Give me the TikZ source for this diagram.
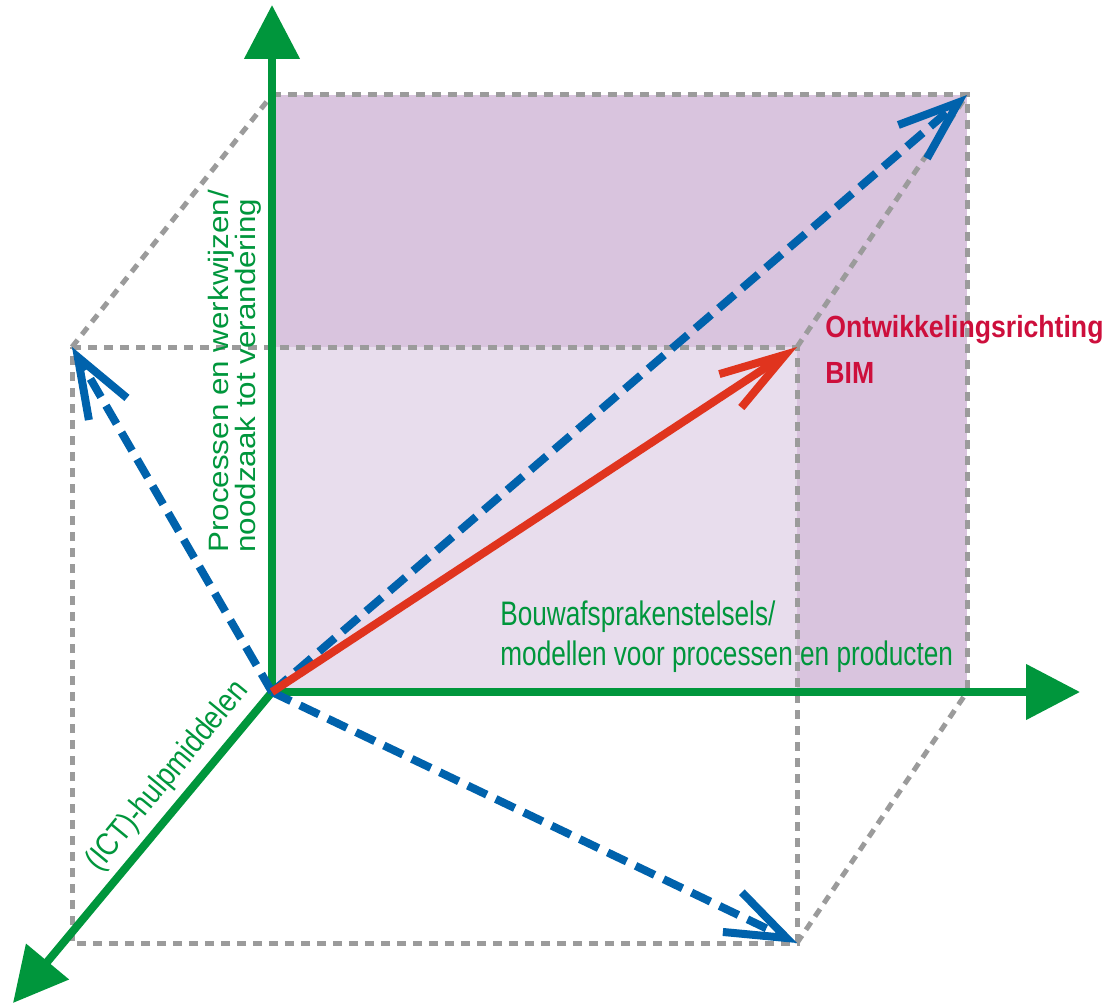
\documentclass[tikz,border=0pt]{standalone}
\usepackage{fontspec}
\setmainfont{Liberation Sans}
\newfontfamily\wideaxis{Liberation Sans}[FakeStretch=1.12]
\newfontfamily\condaxis{Liberation Sans}[FakeStretch=0.77]
\newfontfamily\ictaxis{Liberation Sans}[FakeStretch=0.86]
\newfontfamily\bimfont{Liberation Sans}[FakeStretch=0.87]
\usetikzlibrary{arrows.meta}
\definecolor{axgreen}{RGB}{0,150,60}
\definecolor{vecblue}{RGB}{0,98,172}
\definecolor{vecred}{RGB}{224,52,30}
\definecolor{bimred}{RGB}{205,15,60}
\definecolor{boxgray}{RGB}{155,155,155}
\definecolor{lilac}{RGB}{217,196,222}
\definecolor{palelilac}{RGB}{232,221,237}
\begin{document}
\begin{tikzpicture}[x=0.5pt,y=-0.5pt,
	axis/.style={axgreen,line width=4pt,-{Triangle[length=27pt,width=27pt]}},
	guide/.style={boxgray,line width=2.5pt,dash pattern=on 4.5pt off 3.5pt},
	vec/.style={vecblue,line width=4pt,dash pattern=on 10.5pt off 5pt,-{Straight Barb[length=30pt,width=22pt]}},
	bim/.style={vecred,line width=4pt,-{Straight Barb[length=33pt,width=20pt]}}]
	\useasboundingbox (0,0) rectangle (1109,1006);
	\coordinate (O) at (272,692);
	\coordinate (Ytip) at (272,5);
	\coordinate (Xtip) at (1080,692);
	\coordinate (Ztip) at (13,1003);
	\coordinate (TL) at (272,95);
	\coordinate (TR) at (967,95);
	\coordinate (XR) at (967,692);
	\coordinate (ML) at (72,347);
	\coordinate (MR) at (797,347);
	\coordinate (BL) at (72,943);
	\coordinate (BR) at (797,943);
	\fill[lilac] (TL) rectangle (XR);
	\fill[palelilac] (O) rectangle (MR);
	\draw[guide] (TL) -- (TR) -- (XR);
	\draw[guide] (ML) -- (TL);
	\draw[guide] (MR) -- (TR);
	\draw[guide] (BR) -- (XR);
	\draw[guide] (ML) -- (MR) -- (BR) -- (BL) -- cycle;
	\draw[axis] (O) -- (Ytip);
	\draw[axis] (O) -- (Xtip);
	\draw[axis] (O) -- (Ztip);
	\draw[vec] (O) -- (ML);
	\draw[vec] (O) -- (BR);
	\draw[vec] (O) -- (TR);
	\draw[bim] (O) -- (MR);
	\node[rotate=90,anchor=north west,align=left,inner sep=0,text=axgreen,font=\wideaxis\fontsize{14pt}{13.5pt}\selectfont] (Ylabel) at (207.5,553) {Processen en werkwijzen/\\noodzaak tot verandering};
	\node[anchor=north west,align=left,inner sep=0,text=axgreen,font=\condaxis\fontsize{17pt}{20pt}\selectfont] (Xlabel) at (500,600) {Bouwafsprakenstelsels/\\modellen voor processen en producten};
	\node[rotate=50.5,anchor=base west,inner sep=0,text=axgreen,font=\ictaxis\fontsize{16pt}{18pt}\selectfont] (Zlabel) at (99,873) {(ICT)-hulpmiddelen};
	\node[anchor=north west,align=left,inner sep=0,text=bimred,font=\bimfont\bfseries\fontsize{15.3pt}{23pt}\selectfont] (BIMlabel) at (825,315) {Ontwikkelingsrichting\\BIM};
\end{tikzpicture}
\end{document}
